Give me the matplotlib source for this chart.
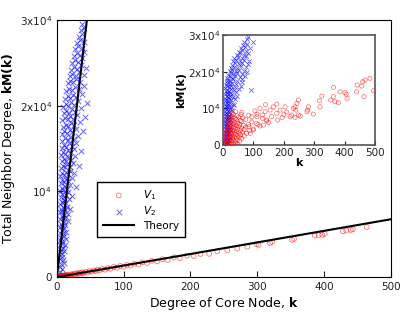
import numpy as np
import matplotlib
matplotlib.use("Agg")
import matplotlib.pyplot as plt

# main panel: V1 (degree k, total neighbor degree kM(k))
v1_k = [3, 4, 5, 6, 7, 8, 9, 10, 11, 12, 13, 14, 15, 16, 18, 20, 22, 24, 26, 28,
        30, 32, 34, 36, 38, 40, 43, 46, 49, 52, 55, 58, 61, 64, 68, 72, 76, 80,
        85, 90, 95, 100, 105, 110, 116, 122, 128, 135, 142, 150, 158, 166, 175,
        184, 195, 205, 215, 228, 240, 255, 270, 285, 299, 302, 319, 322, 352,
        355, 386, 392, 397, 401, 428, 433, 440, 443, 464]
v1_kM = [60, 20, 110, 40, 150, 70, 180, 100, 210, 130, 230, 160, 260, 170, 300,
         220, 340, 260, 400, 330, 450, 380, 510, 420, 560, 470, 620, 540, 700,
         620, 780, 700, 860, 780, 960, 870, 1060, 980, 1180, 1100, 1300, 1220,
         1420, 1350, 1560, 1480, 1720, 1650, 1900, 1830, 2080, 2000, 2300, 2210,
         2500, 2450, 2700, 2720, 3000, 3120, 3330, 3550, 3850, 3760, 3980, 4100,
         4350, 4450, 4850, 4900, 4950, 5050, 5350, 5420, 5500, 5580, 5850]

# main panel: V2 as (k, kM) pairs
v2_pts = [
    (3, 300), (5, 650), (7, 200), (4, 1200), (6, 1500), (8, 900), (10, 1700), (5, 2100),
    (7, 2400), (9, 2000), (4, 2900), (6, 3200), (8, 2700), (11, 3000), (5, 3700), (7, 3900),
    (9, 3400), (12, 3800), (4, 4300), (6, 4600), (8, 4200), (10, 4800), (13, 4500),
    (5, 5200), (7, 5500), (9, 5100), (11, 5700), (14, 5300), (4, 5900), (6, 6200), (8, 6000),
    (10, 6400), (12, 6100), (16, 6500), (5, 6800), (7, 7100), (9, 6900), (11, 7300), (13, 7000),
    (17, 7400), (4, 7600), (6, 7900), (8, 7700), (10, 8100), (12, 7800), (15, 8200), (20, 7900),
    (5, 8500), (7, 8800), (9, 8600), (11, 9000), (14, 8700), (18, 9100), (6, 9400), (8, 9700),
    (10, 9300), (13, 9600), (16, 9900), (23, 9500),
    (5, 10100), (7, 10400), (9, 10200), (12, 10600), (15, 10300), (19, 10700), (28, 10500),
    (6, 11000), (8, 11300), (11, 11100), (14, 11500), (17, 11200), (22, 11600), (5, 11800),
    (7, 12100), (10, 11900), (13, 12300), (16, 12000), (20, 12400), (26, 12200), (6, 12700),
    (9, 13000), (12, 12800), (15, 13200), (19, 12900), (24, 13300), (33, 13000), (7, 13500),
    (10, 13800), (13, 13600), (17, 14000), (21, 13700), (27, 14100), (6, 14300), (9, 14600),
    (12, 14400), (16, 14800), (20, 14500), (25, 14900), (36, 14700),
    (7, 15100), (10, 15400), (14, 15200), (18, 15600), (22, 15300), (29, 15700), (8, 15900),
    (12, 16200), (16, 16000), (20, 16400), (25, 16100), (32, 16500), (7, 16700), (11, 17000),
    (15, 16800), (19, 17200), (23, 16900), (28, 17300), (39, 17100), (9, 17500), (13, 17800),
    (17, 17600), (21, 18000), (26, 17700), (34, 18100), (8, 18300), (12, 18600), (16, 18400),
    (20, 18800), (24, 18500), (30, 18900), (42, 18700), (10, 19100), (14, 19400), (18, 19200),
    (22, 19600), (27, 19300), (36, 19700), (9, 19900), (13, 20200), (17, 20000), (21, 20400),
    (25, 20100), (31, 20500), (45, 20300),
    (12, 20800), (16, 21100), (20, 20900), (24, 21300), (29, 21000), (38, 21400), (14, 21700),
    (18, 22000), (22, 21800), (27, 22200), (33, 21900), (41, 22300), (16, 22600), (20, 22900),
    (24, 22700), (29, 23100), (35, 22800), (19, 23400), (23, 23700), (28, 23500), (33, 23900),
    (40, 23600), (21, 24200), (25, 24500), (30, 24300), (36, 24700), (43, 24400),
    (23, 25000), (27, 25300), (32, 25100), (38, 25500), (25, 25800), (30, 26100), (35, 25900),
    (41, 26300), (27, 26600), (32, 26900), (37, 26700), (30, 27300), (35, 27600), (40, 27400),
    (33, 28000), (38, 28300), (36, 28800), (40, 29100), (38, 29500),
]

# theory lines
theory1_k = [0, 500]
theory1_kM = [0, 6750]
theory2_k = [0, 46]
theory2_kM = [0, 30700]

# inset: V1 as (k, kM) pairs
in_v1_pts = [
    (8, 300), (12, 700), (16, 200), (20, 500), (25, 300), (30, 600), (36, 250), (42, 500), (48, 350),
    (9, 1100), (13, 1400), (18, 1000), (23, 1300), (28, 1100), (34, 1450), (40, 1000), (47, 1300), (55, 1100),
    (10, 1800), (15, 2100), (20, 1700), (26, 2000), (32, 1800), (38, 2200), (45, 1900), (53, 2100), (62, 1800),
    (11, 2500), (16, 2800), (22, 2400), (28, 2700), (34, 2500), (41, 2900), (49, 2600), (58, 2800), (70, 2500),
    (12, 3200), (18, 3500), (24, 3100), (30, 3400), (37, 3200), (45, 3600), (54, 3300), (64, 3500), (78, 3200),
    (13, 3900), (19, 4200), (25, 3800), (32, 4100), (39, 3900), (48, 4300), (58, 4000), (70, 4200), (88, 3900),
    (14, 4600), (20, 4900), (27, 4500), (34, 4800), (42, 4600), (51, 5000), (62, 4700), (75, 4900), (100, 4400),
    (15, 5300), (22, 5600), (29, 5200), (36, 5500), (45, 5300), (55, 5700), (68, 5400), (84, 5600), (122, 5200),
    (16, 6000), (24, 6300), (31, 5900), (39, 6200), (49, 6000), (61, 6400), (110, 5900),
    (18, 6700), (27, 7000), (35, 6600), (44, 6900), (57, 6700), (75, 7000), (144, 6600),
    (20, 7400), (30, 7700), (40, 7300), (52, 7600), (66, 7400), (95, 7700), (130, 7300),
    (24, 8100), (34, 8400), (46, 8000), (60, 8300), (85, 8100), (112, 8400),
    (30, 8800), (42, 9100), (62, 8900),
    (483, 18190), (467, 17700), (459, 17260), (456, 16090), (441, 16360), (439, 14540),
    (463, 13180), (494, 14810), (401, 14270), (405, 13910), (408, 12730), (385, 14540),
    (379, 11540), (363, 15730), (363, 13180), (354, 12270), (368, 11810), (325, 13360),
    (317, 12080), (319, 10440), (297, 8450), (281, 10440), (278, 9540), (276, 9080),
    (248, 12270), (243, 11370), (237, 10440), (240, 9540), (232, 10000), (226, 8180),
    (248, 8180), (254, 7910), (237, 7550), (221, 7720), (204, 10440), (188, 9540),
    (166, 10440), (177, 8640), (155, 9540), (122, 10000), (139, 9080), (112, 7720),
    (177, 11180), (144, 6820), (133, 5450), (100, 4090), (90, 3190), (195, 7500),
    (210, 9000), (160, 7800), (130, 8200), (150, 6200), (115, 5600), (180, 6800),
    (200, 8300), (105, 9300), (95, 6300), (85, 5000), (140, 11000),
]

# inset: V2 as (k, kM) pairs
in_v2_pts = [
    (6, 300), (10, 700), (14, 200), (18, 600), (5, 1200), (8, 1600), (12, 1100), (16, 1500), (20, 1300),
    (7, 2100), (11, 2500), (15, 2200), (19, 2600), (23, 2300), (5, 3000), (9, 3400), (13, 3100), (17, 3500),
    (21, 3200), (7, 3900), (11, 4300), (15, 4000), (19, 4400), (24, 4100), (5, 4800), (9, 5200), (13, 4900),
    (17, 5300), (22, 5000), (7, 5700), (11, 6100), (15, 5800), (20, 6200), (26, 5900), (6, 6600), (10, 7000),
    (14, 6700), (18, 7100), (23, 6800), (7, 7500), (11, 7900), (16, 7600), (21, 8000), (28, 7700), (6, 8400),
    (10, 8800), (14, 8500), (19, 8900), (25, 8600), (7, 9300), (12, 9700), (17, 9400), (22, 9800), (30, 9500),
    (6, 10200), (10, 10600), (15, 10300), (20, 10700), (27, 10400), (36, 10800), (8, 11100), (12, 11500),
    (17, 11200), (23, 11600), (32, 11300), (7, 12000), (11, 12400), (16, 12100), (21, 12500), (28, 12200),
    (40, 12600), (8, 12900), (13, 13300), (18, 13000), (25, 13400), (34, 13100), (48, 13500), (7, 13800),
    (12, 14200), (17, 13900), (23, 14300), (30, 14000), (44, 14400), (9, 14700), (14, 15100), (19, 14800),
    (26, 15200), (36, 14900), (52, 15300), (93, 15000), (8, 15600), (13, 16000), (20, 15700), (28, 16100),
    (40, 15800), (58, 16200), (10, 16500), (15, 16900), (22, 16600), (31, 17000), (44, 16700), (62, 17100),
    (12, 17400), (18, 17800), (25, 17500), (34, 17900), (46, 17600), (64, 18000), (15, 18300), (22, 18700),
    (30, 18400), (40, 18800), (55, 18500), (72, 18900), (18, 19200), (26, 19600), (35, 19300), (47, 19700),
    (62, 19400), (80, 19800), (22, 20100), (31, 20500), (42, 20200), (54, 20600), (70, 20300), (26, 21000),
    (37, 21400), (48, 21100), (60, 21500), (76, 21200), (30, 21900), (40, 22300), (52, 22000), (64, 22400),
    (82, 22100), (34, 22800), (44, 23200), (56, 22900), (68, 23300), (85, 23000), (38, 23700), (50, 24100),
    (62, 23800), (75, 24200), (45, 24600), (57, 25000), (68, 24700), (82, 25100), (52, 25500), (64, 25900),
    (76, 25600), (60, 26400), (72, 26800), (88, 26500), (66, 27300), (78, 27700), (70, 28200), (98, 28000),
    (84, 29500), (80, 28800),
]

v2_k, v2_kM = zip(*v2_pts)
in_v1_k, in_v1_kM = zip(*in_v1_pts)
in_v2_k, in_v2_kM = zip(*in_v2_pts)

red = (1.0, 0.0, 0.0, 0.55)
blue = (0.0, 0.0, 1.0, 0.6)

fig = plt.figure(figsize=(4.15, 3.16), dpi=100)
ax = fig.add_axes([0.137, 0.123, 0.805, 0.814])

ax.scatter(v2_k, v2_kM, marker='x', s=16, color=blue, linewidths=0.7, label='$V_2$', zorder=2)
ax.scatter(v1_k, v1_kM, marker='o', s=12, facecolors='none', edgecolors=red, linewidths=0.6,
           label='$V_1$', zorder=3)
ax.plot(theory1_k, theory1_kM, color='black', lw=1.5, label='Theory', zorder=4)
ax.plot(theory2_k, theory2_kM, color='black', lw=1.5, zorder=4)

ax.set_xlim(0, 500)
ax.set_ylim(0, 30000)
ax.set_xticks([0, 100, 200, 300, 400, 500])
ax.set_yticks([0, 10000, 20000, 30000])
ax.set_yticklabels(['0', '10$^4$', '2x10$^4$', '3x10$^4$'])
ax.tick_params(direction='in', length=4, labelsize=7.5, colors='#222222')
ax.set_xlabel(r'Degree of Core Node, $\mathbf{k}$', fontsize=9, labelpad=2)
ax.set_ylabel(r'Total Neighbor Degree, $\mathbf{kM(k)}$', fontsize=9, labelpad=2)

h, l = ax.get_legend_handles_labels()
order = [l.index('$V_1$'), l.index('$V_2$'), l.index('Theory')]
ax.legend([h[i] for i in order], [l[i] for i in order], loc='lower left',
          bbox_to_anchor=(0.12, 0.155), borderaxespad=0, fontsize=7.5, fancybox=False,
          framealpha=1, edgecolor='black', borderpad=0.6, handlelength=3.0,
          labelspacing=0.25)

# inset
axi = fig.add_axes([0.537, 0.541, 0.367, 0.348])
axi.scatter(in_v2_k, in_v2_kM, marker='x', s=10, color=blue, linewidths=0.6, zorder=2)
axi.scatter(in_v1_k, in_v1_kM, marker='o', s=9, facecolors='none', edgecolors=red,
            linewidths=0.55, zorder=3)
axi.set_xlim(0, 500)
axi.set_ylim(0, 30000)
axi.set_xticks([0, 100, 200, 300, 400, 500])
axi.set_yticks([0, 10000, 20000, 30000])
axi.set_yticklabels(['0', '10$^4$', '2x10$^4$', '3x10$^4$'])
axi.tick_params(direction='in', length=3, labelsize=7.5, colors='#222222', pad=2)
for s in axi.spines.values():
    s.set_color('#555555')
    s.set_linewidth(1.2)
axi.set_xlabel('k', fontsize=8, fontweight='bold', labelpad=0)
axi.set_ylabel('kM(k)', fontsize=8, fontweight='bold', labelpad=1)

fig.savefig('out.png', dpi=100)
